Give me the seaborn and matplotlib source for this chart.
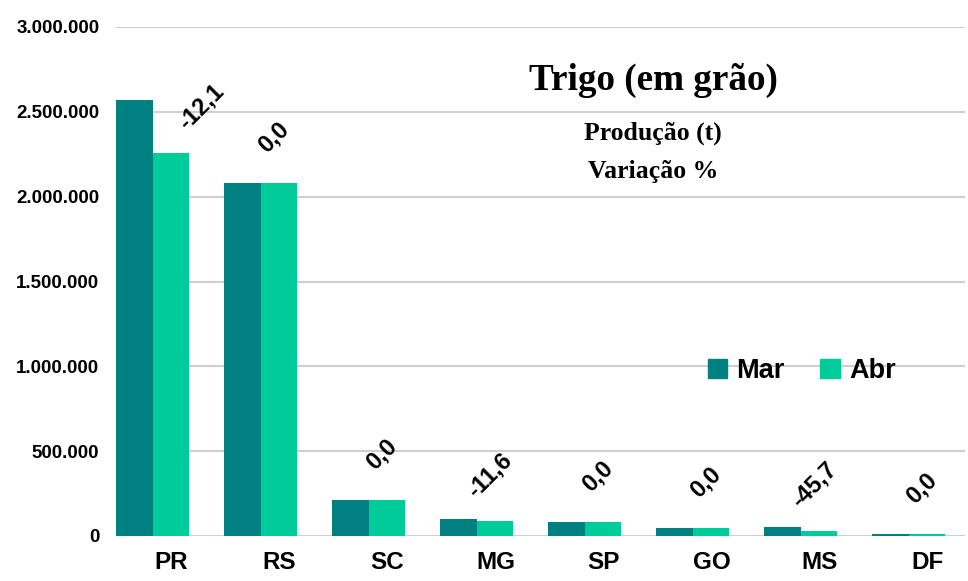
import numpy as np
import pandas as pd
import seaborn as sns
import matplotlib.pyplot as plt
import matplotlib.transforms as mtransforms
from matplotlib.patches import Patch
from matplotlib.ticker import FuncFormatter

# data (t)
states = ["PR", "RS", "SC", "MG", "SP", "GO", "MS", "DF"]
mar = [2570000, 2080000, 212000, 100000, 83000, 47000, 53000, 12000]
abr = [2259000, 2080000, 212000, 88400, 83000, 47000, 28800, 12000]
variacao = [-12.1, 0.0, 0.0, -11.6, 0.0, 0.0, -45.7, 0.0]
months = ["Mar", "Abr"]
colors = ["#008080", "#00CC99"]

df = pd.DataFrame({"UF": states * 2,
                   "Mes": ["Mar"] * len(states) + ["Abr"] * len(states),
                   "Producao": mar + abr})

sns.set_theme(style="white")
plt.rcParams['font.family'] = ['Liberation Sans', 'DejaVu Sans']
plt.rcParams['text.color'] = 'black'
plt.rcParams['xtick.color'] = 'black'
plt.rcParams['ytick.color'] = 'black'

fig = plt.figure(figsize=(9.68, 5.81), dpi=100)
ax = fig.add_axes([116 / 968, 1 - 536 / 581, 849 / 968, 509 / 581])

sns.barplot(data=df, x="UF", y="Producao", hue="Mes", hue_order=months,
            palette=colors, width=0.676, saturation=1, linewidth=0,
            ax=ax, legend=False)

ax.set_ylim(0, 3000000)
ax.set_xlim(-0.338, 7.52)
ax.set_yticks(np.arange(0, 3000001, 500000))
ax.yaxis.set_major_formatter(FuncFormatter(lambda v, p: f"{int(v):,}".replace(",", ".")))
ax.yaxis.grid(True, color="#cfcfcf", linewidth=1.5)
ax.set_axisbelow(True)
for s in ax.spines.values():
    s.set_visible(False)
ax.set_xlabel("")
ax.set_ylabel("")
ax.tick_params(axis="y", length=0, pad=12, labelsize=13.5)
ax.tick_params(axis="x", length=0, pad=11, labelsize=17.5)
for lab in ax.get_yticklabels() + ax.get_xticklabels():
    lab.set_fontweight("bold")
# category labels sit a bit right of the bar groups
shift = mtransforms.ScaledTranslation(0.19, 0, fig.dpi_scale_trans)
for lab in ax.get_xticklabels():
    lab.set_transform(lab.get_transform() + shift)

# variation labels above the Abr bars
for i, bar in enumerate(ax.containers[1]):
    xc = bar.get_x() + bar.get_width() / 2
    dx = 30 if i == 0 else -5
    ax.annotate(f"{variacao[i]:.1f}".replace(".", ","), (xc, bar.get_height()),
                xytext=(dx, 46), textcoords="offset pixels", rotation=45,
                rotation_mode="anchor", ha="center", va="center",
                fontsize=17, fontweight="bold", color="black")

# titles
serif = ["Liberation Serif", "DejaVu Serif"]
fig.text(653 / 968, 1 - 80 / 581, "Trigo (em grão)", ha="center", va="center",
         fontsize=26.7, fontweight="bold", family=serif)
fig.text(653 / 968, 1 - 133 / 581, "Produção (t)", ha="center", va="center",
         fontsize=18.5, fontweight="bold", family=serif)
fig.text(653 / 968, 1 - 172 / 581, "Variação %", ha="center", va="center",
         fontsize=18.5, fontweight="bold", family=serif)

handles = [Patch(color=c, label=m) for c, m in zip(colors, months)]
fig.legend(handles=handles, loc="center left", bbox_to_anchor=(694 / 968, 1 - 371 / 581),
           ncol=2, frameon=False, borderpad=0, handlelength=0.72, handleheight=0.72,
           handletextpad=0.35, columnspacing=1.3,
           prop={"size": 19.5, "weight": "bold"})

fig.savefig("out.png", dpi=100)
